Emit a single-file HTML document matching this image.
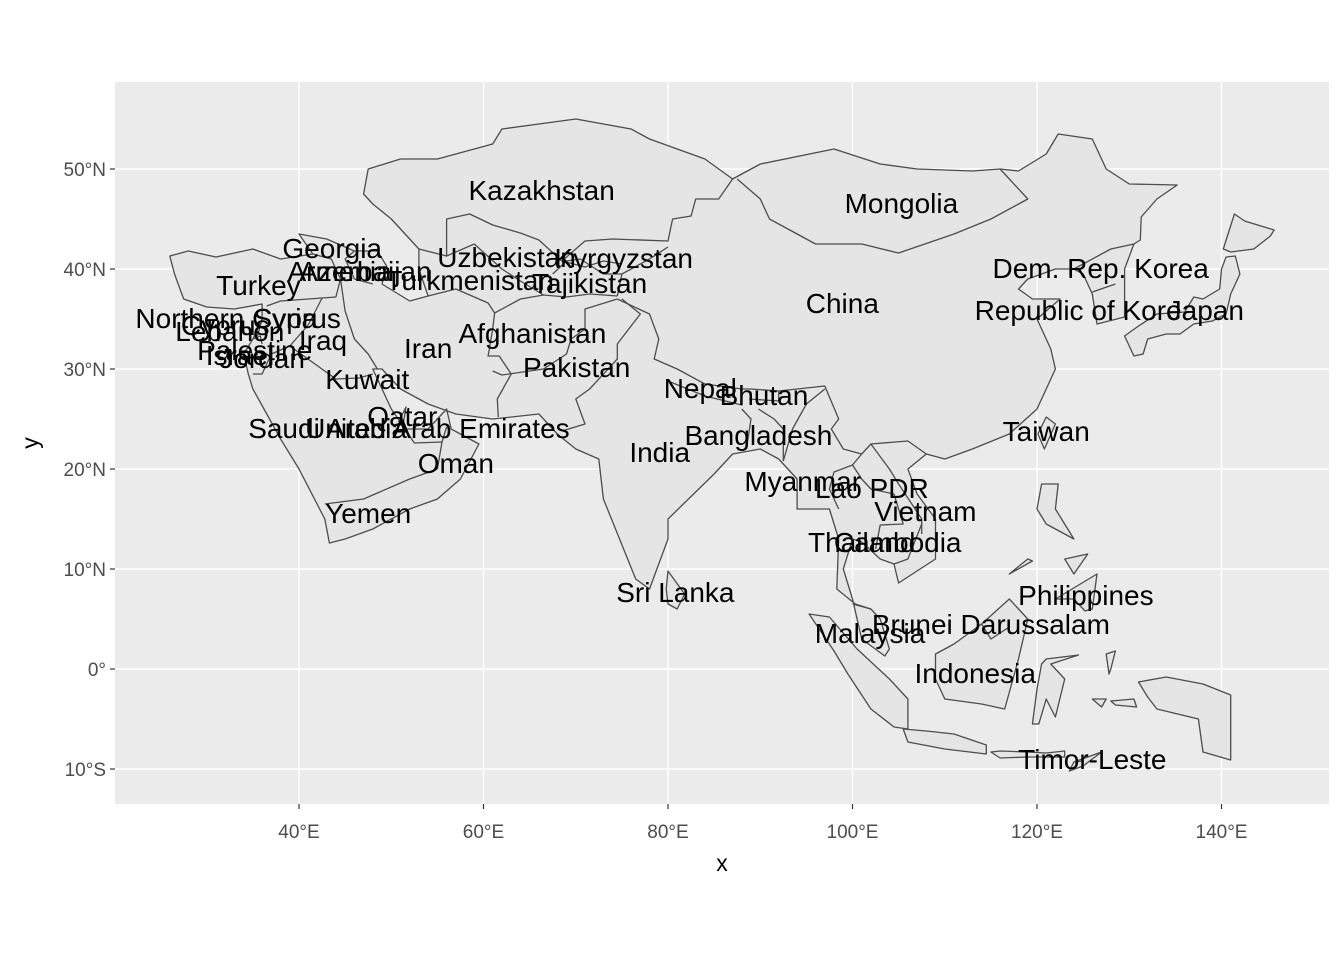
<!DOCTYPE html>
<html><head><meta charset="utf-8"><style>
body{margin:0;background:#fff}
svg{display:block}
text{font-family:"Liberation Sans",Arial,sans-serif}
</style></head><body>
<svg id="c" width="1344" height="960"></svg>
<script>
const countryNames=["Kazakhstan","Mongolia","Georgia","Armenia","Azerbaijan","Uzbekistan","Kyrgyzstan","Turkmenistan","Tajikistan","Turkey","China","Dem. Rep. Korea","Republic of Korea","Japan","Northern Cyprus","Cyprus","Syria","Lebanon","Iraq","Palestine","Israel","Jordan","Iran","Afghanistan","Pakistan","Kuwait","Nepal","Bhutan","Qatar","Saudi Arabia","United Arab Emirates","India","Bangladesh","Taiwan","Oman","Myanmar","Lao PDR","Vietnam","Thailand","Cambodia","Yemen","Sri Lanka","Philippines","Brunei Darussalam","Malaysia","Indonesia","Timor-Leste"];
const labelLon=[66.3,105.3,43.6,44.4,47.2,62.5,75.2,58.5,71.5,35.6,98.9,126.9,125.3,138.3,33.4,32.0,38.5,32.5,42.6,35.2,33.6,36.0,54.0,65.3,70.1,47.4,83.5,90.4,51.2,43.1,55.0,79.1,89.8,121.0,57.0,94.6,102.1,107.9,101.0,104.9,47.5,80.8,125.3,115.0,101.9,113.3,126.0];
const labelLat=[47.9,46.6,42.1,39.8,39.8,41.2,41.1,38.9,38.6,38.4,36.6,40.1,35.9,35.9,35.1,34.4,35.1,33.8,32.9,31.9,31.4,31.1,32.1,33.6,30.2,29.0,28.1,27.4,25.3,24.1,24.1,21.7,23.4,23.8,20.6,18.8,18.1,15.8,12.7,12.7,15.6,7.7,7.4,4.5,3.6,-0.4,-9.0];
const xTicks=[40,60,80,100,120,140];
const xTickLabels=["40°E","60°E","80°E","100°E","120°E","140°E"];
const yTicks=[50,40,30,20,10,0,-10];
const yTickLabels=["50°N","40°N","30°N","20°N","10°N","0°","10°S"];

const mainland=[[26,41.3],[28,41.8],[31,41.2],[35,42],[38,41],[41.5,41.5],[40,43.5],[43,43],[46,41.8],[48.5,41.8],[49.5,40.3],[49,38.5],[52,36.8],[54,37.3],[53,40],[53,42],[51,44],[50,45],[48,46.5],[47,47.5],[47.5,50],[51,51],[55,51],[61,52.5],[62,54],[70,55],[76,54],[78,53],[84,51],[87,49],[90,50.5],[98,52],[103,50.5],[107,50],[113,49.8],[116,50],[118,49.8],[121,51.5],[122.3,53.5],[126,53],[127.5,50],[130,48.5],[135.2,48.4],[133,47],[131.3,45.2],[131.2,42.9],[130.5,42.5],[129.5,40],[129.5,35.2],[126.5,34.5],[126,37.5],[125,39.5],[124,40],[122,40],[119,39],[118,38],[119.5,37],[122.5,37],[120,35],[121.5,32],[122,30],[120,26],[117,23.5],[113,22],[110,21],[108,21.5],[106,20],[107,17.5],[109,15],[109,11],[105,8.6],[104.5,10.5],[103,11],[101,12.7],[100,13],[99,10],[100,7],[101,3],[103.5,1.3],[104,2],[103,5],[102,6],[100.3,6.5],[98.3,8],[98.5,13],[97.5,16],[94,16],[94,19],[92,21],[90,22],[87,21.5],[85,19.5],[80,15],[80,13],[78,8],[76.5,9],[73,17],[72.5,21],[70,22],[68,23.5],[66,25.5],[61,25],[57,25.5],[54,26.5],[51,28],[49,30],[48,30],[50,26],[51.5,24],[54,24],[56,26],[56.5,24],[59.5,22.5],[57.5,19],[55,17],[52,16],[48,14],[45,13],[43.3,12.6],[42.8,15],[40,20],[38,23],[35,28],[34.5,29.5],[34,31.5],[35,33],[36,35],[36,36.5],[33,36],[30,36.2],[27.5,37],[26.5,39.5],[26,41.3]];
const islands=[
[[80,9.8],[81.8,7.5],[81,6],[80,6.5],[79.8,8]],
[[121,25.2],[122,24.5],[120.8,22],[120.1,23.5]],
[[129.5,33.3],[130.5,31.3],[131.5,31.5],[132,33],[134,33.5],[135.5,33.5],[137,34.5],[139,34.8],[140.5,35.5],[141,37.5],[142,39.5],[141.5,41.3],[140.5,41.2],[140,40],[139.8,38],[138,37],[137,37.2],[136,35.7],[133,35.5],[131,34.3]],
[[140.2,42],[141.4,45.5],[142.5,44.8],[145.7,43.9],[145.3,43.3],[143.5,42],[141,41.7]],
[[120.5,18.5],[122.3,18.5],[122,16],[124,13],[121,14.5],[120,16]],
[[122,7],[126.5,9.5],[126,6],[125.2,5.8],[124,7]],
[[123,11],[125.5,11.5],[124,9.5]],
[[117,9.5],[119,11],[119.5,10.8]],
[[109,1.5],[111,2.5],[114,4.5],[117,7],[119,5],[118,1],[116.5,-4],[114,-3.5],[110,-3],[109,-1]],
[[95.3,5.5],[97.5,5.2],[100.5,2],[104,-1],[106,-3],[106,-6],[104.5,-5.8],[102,-4],[99.5,-0.5],[98,1.8]],
[[105.5,-6],[108,-6.2],[111,-6.5],[114.5,-7.6],[114.5,-8.5],[110,-8],[106,-7.3]],
[[119.5,-5.5],[120,-2],[120.5,0.5],[121,1],[124.5,1.4],[121.5,0.5],[123,-1],[122,-4.8],[121,-3],[120.2,-5.5]],
[[127.5,1.5],[128.5,1.8],[128,0],[127.8,-0.5]],
[[126,-3],[127.5,-3],[127,-3.8]],
[[128,-3.2],[130.5,-3],[130.8,-3.8],[128.5,-3.6]],
[[131,-1.3],[134,-0.8],[138,-1.5],[141,-2.6],[141,-9.1],[138,-8.3],[137.5,-5],[133,-4],[132,-2.8]],
[[115,-8.3],[116,-8.2],[119,-8.3],[121,-8.4],[123,-8.2],[123,-8.8],[119,-8.8],[116,-8.9]],
[[124,-9.3],[127,-8.3],[125,-9.7],[123.5,-10.2]]
];
const borders=[
[[41.5,41.5],[43.5,41],[44,40],[44.5,39],[44,37.2],[42.5,37.1],[38,36.8],[36.5,36.3]],
[[42.5,37.1],[41,34.4],[39,32.3]],[[39,32.3],[37,31.5],[36,29.5],[35,29.5]],[[36,32.5],[35.8,33.3],[35,33]],[[35.5,33.3],[36,35]],
[[39,32.3],[44,29],[46.5,29.1],[48,29.5]],
[[44.5,39],[45,35.8],[46,33],[47.5,31.5],[48.5,30]],
[[46,41.8],[45,41],[46,39],[48,38.5]],
[[54,37.3],[57,38],[60.5,36.6],[61.2,35.6],[61,34],[60.5,31.3],[61.7,31.3],[63,29.5],[61.5,27],[61.6,25.2]],
[[53,42],[56,41.3],[56,45],[58.5,45.5],[61,44.4],[64,43.6],[66,42.9],[68.5,40.8],[71,42.8],[74,43],[80,42.8],[80.5,45],[82.5,45.3],[83,47],[85.5,47],[87,49]],
[[56,41.3],[59,42.5],[62,40],[64,38.8],[66.5,37.4]],
[[61.2,35.6],[64,37],[66.5,37.4],[69,37.2],[71.5,37.5],[74.5,37.3]],
[[67.5,39.5],[69,40.8],[70.5,41],[73,39.5],[75,39.5]],[[68.5,40.8],[71,40.2],[73,40.8],[75,40.5]],
[[75,39.5],[78,41],[80,42.2]],[[74.5,37.3],[75,39.5]],
[[74.5,37],[71,36],[71,34],[69.5,33],[69,31.5],[66.5,30],[62,29.4],[61,29.8]],
[[75,37],[77,35.5],[74.5,32.5],[74.5,31],[71.5,28],[70,27],[71,24.5],[68.5,23.8]],
[[74.5,37],[78,35.5],[79,33],[78.5,31],[81,30],[84,28.5],[88,28],[89,28],[92,27.8],[97,28.3],[98.5,25],[97.7,24],[99,22],[101,21.5],[102,22.5],[106,22.8],[108,21.5]],
[[80,28.8],[84,27.3],[88,26.4],[88,28]],[[88.8,27],[92,26.8],[92,27.8]],
[[88,26],[89,25],[88.5,22]],[[92.5,20.8],[92.5,24],[91.5,25],[89.8,26]],
[[92.5,20.8],[93.5,24],[95,26.5],[97,28]],
[[101,21.5],[100,20.4],[98,19.7],[97.5,18],[98.5,16]],
[[100,20.4],[101,19],[102,18],[104.5,17.5],[105.5,14.5],[103,14.4],[102.5,12]],
[[102,22.5],[104,20],[105,18.5],[107.5,15],[107.5,13.5]],[[107.5,14.5],[106,11],[104.5,10.5]],
[[100,6.5],[102,6]],
[[87.5,49],[90,47],[91,45],[96,42.5],[101,42.5],[105,41.6],[111,43.5],[115,45],[119,47],[116,50]],
[[124,40],[128,42],[130.5,42.5]],[[126,37.7],[128.5,38.5]],
[[42.8,16.5],[47,17],[52,19],[55,20]],[[55,20],[55.5,22.7],[56,24.2]],[[51.5,24],[52.5,22.6],[55.5,22.7]],
[[50.8,24.7],[51.6,26.2],[51.3,24.5]],
[[114,4.5],[115,3],[117,4.2]],[[124,-9.3],[125,-9.2]]
];

const ns="http://www.w3.org/2000/svg";
const svg=document.getElementById('c');
const PL=115,PR=1329,PT=82,PB=804;
function xs(lon){return 299+(lon-40)*9.225;}
function ys(lat){return 669-lat*10;}
function mk(tag,attrs,parent){const e=document.createElementNS(ns,tag);for(const k in attrs)e.setAttribute(k,attrs[k]);(parent||svg).appendChild(e);return e;}

const bg=mk('rect',{x:PL,y:PT,width:PR-PL,height:PB-PT,fill:'#ebebeb'});


const grid=mk('g',{});


xTicks.forEach(v=>{mk('line',{x1:xs(v),x2:xs(v),y1:PT,y2:PB,stroke:'#fff','stroke-width':1.4},grid);});
yTicks.forEach(v=>{mk('line',{x1:PL,x2:PR,y1:ys(v),y2:ys(v),stroke:'#fff','stroke-width':1.4},grid);});

const land=mk('g',{fill:'#e5e5e5',stroke:'#4d4d4d','stroke-width':1.3,'stroke-linejoin':'round'});


function pts(a){return a.map(p=>xs(p[0]).toFixed(1)+','+ys(p[1]).toFixed(1)).join(' ');}
const ml=mk('polygon',{points:pts(mainland)},land);


islands.forEach(a=>{const p=mk('polygon',{points:pts(a)},land);

});
borders.forEach(a=>{const p=mk('polyline',{points:pts(a),fill:'none'},land);

});

const lg=mk('g',{'font-size':'28px',fill:'#000','text-anchor':'middle'});


countryNames.forEach((n,i)=>{const t=mk('text',{x:xs(labelLon[i]),y:ys(labelLat[i])+10},lg);t.textContent=n;

});

const ax=mk('g',{'font-size':'19px',fill:'#4d4d4d'});


xTicks.forEach((v,i)=>{mk('line',{x1:xs(v),x2:xs(v),y1:PB,y2:PB+5,stroke:'#333','stroke-width':1.2},ax);
const t=mk('text',{x:xs(v),y:PB+34,'text-anchor':'middle'},ax);t.textContent=xTickLabels[i];

});
yTicks.forEach((v,i)=>{mk('line',{x1:PL-5,x2:PL,y1:ys(v),y2:ys(v),stroke:'#333','stroke-width':1.2},ax);
const t=mk('text',{x:PL-9,y:ys(v)+7,'text-anchor':'end'},ax);t.textContent=yTickLabels[i];

});
const xt=mk('text',{x:(PL+PR)/2,y:871,'text-anchor':'middle','font-size':'23px',fill:'#000'});xt.textContent='x';


const yt=mk('text',{x:0,y:0,transform:'translate(38,443) rotate(-90)','text-anchor':'middle','font-size':'23px',fill:'#000'});yt.textContent='y';


</script>
</body></html>
